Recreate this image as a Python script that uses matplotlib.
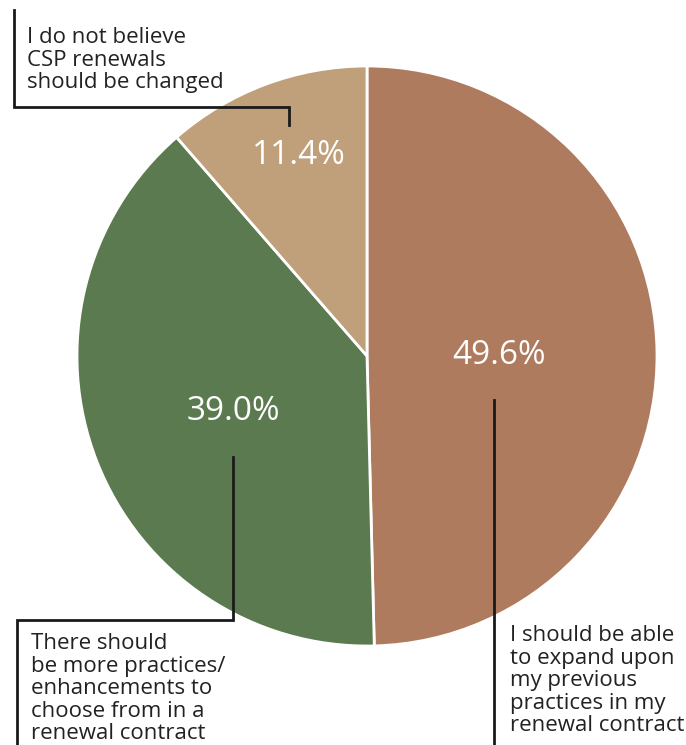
import matplotlib.pyplot as plt

shares = [49.6, 39.0, 11.4]
pct_labels = ["49.6%", "39.0%", "11.4%"]
answers = [
    "I should be able\nto expand upon\nmy previous\npractices in my\nrenewal contract",
    "There should\nbe more practices/\nenhancements to\nchoose from in a\nrenewal contract",
    "I do not believe\nCSP renewals\nshould be changed",
]
colors = ["#AF7B5E", "#5B7A50", "#BFA07A"]

W, H = 686, 745
plt.rcParams['font.family'] = ['Open Sans', 'DejaVu Sans']

fig = plt.figure(figsize=(W / 100, H / 100), dpi=100)
ax = fig.add_axes([0, 0, 1, 1])

def Y(y):
    # pixel row from top -> data y
    return H - y

cx, cy, r = 367, 356, 290
ax.pie(shares, colors=colors, startangle=90, counterclock=False,
       center=(cx, Y(cy)), radius=r, frame=True,
       wedgeprops=dict(edgecolor='white', linewidth=2))
ax.set_xlim(0, W)
ax.set_ylim(0, H)
ax.set_aspect('equal')
ax.axis('off')

# percentage labels
pct_pos = [(499, 356), (233, 412), (299, 155)]
for (x, y), t in zip(pct_pos, pct_labels):
    ax.text(x, Y(y), t, color='white', fontsize=24,
            ha='center', va='center')

# leader lines
lc = '#1a1a1a'
ax.plot([14, 14, 289, 289], [Y(10), Y(107), Y(107), Y(125)], color=lc, lw=2, solid_joinstyle='miter')
ax.plot([233, 233, 17, 17], [Y(457), Y(620), Y(620), Y(745)], color=lc, lw=2, solid_joinstyle='miter')
ax.plot([494, 494], [Y(400), Y(745)], color=lc, lw=2)

# answer labels
kw = dict(fontsize=16, color='#222222', ha='left', va='top', linespacing=1.1)
ax.text(27, Y(27), answers[2], **kw)
ax.text(31, Y(633), answers[1], **kw)
ax.text(510, Y(625), answers[0], **kw)

fig.savefig('out.png', dpi=100)
